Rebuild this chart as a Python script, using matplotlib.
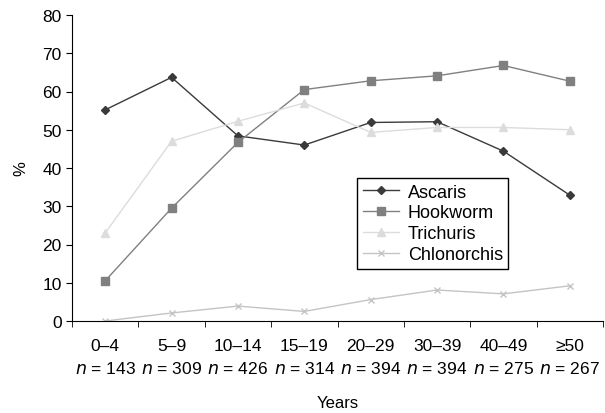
import matplotlib.pyplot as plt
from matplotlib.ticker import MultipleLocator, FixedLocator

plt.rcParams['font.family'] = ['Liberation Sans', 'DejaVu Sans']

age_groups = ['0–4', '5–9', '10–14', '15–19', '20–29', '30–39', '40–49', '≥50']
n_counts = [143, 309, 426, 314, 394, 394, 275, 267]

ascaris = [55.2, 63.7, 48.4, 46.0, 51.9, 52.1, 44.4, 32.9]
hookworm = [10.5, 29.5, 46.7, 60.5, 62.8, 64.1, 66.8, 62.7]
trichuris = [23.0, 47.0, 52.2, 57.0, 49.3, 50.6, 50.6, 50.0]
chlonorchis = [0.0, 2.1, 3.9, 2.5, 5.6, 8.1, 7.1, 9.2]

fig = plt.figure(figsize=(6.05, 4.14), dpi=100)
ax = fig.add_axes([72/605, 1 - 322/414, (603 - 72)/605, (322 - 16)/414])

x = list(range(len(age_groups)))
ax.plot(x, ascaris, color='#3a3a3a', marker='D', markersize=4, lw=1, label='Ascaris')
ax.plot(x, hookworm, color='#808080', marker='s', markersize=5.5, lw=1, label='Hookworm')
ax.plot(x, trichuris, color='#dcdcdc', marker='^', markersize=6, lw=1, label='Trichuris')
ax.plot(x, chlonorchis, color='#c4c4c4', marker='x', markersize=5, lw=1, mew=1, label='Chlonorchis')

ax.set_xlim(-0.5, len(age_groups) - 0.5)
ax.set_ylim(0, 80)
ax.yaxis.set_major_locator(MultipleLocator(10))

labels = [a + '\n' + '$n$ = ' + str(n) for a, n in zip(age_groups, n_counts)]
ax.set_xticks(x)
ax.set_xticklabels(labels, linespacing=1.6)
ax.xaxis.set_minor_locator(FixedLocator([i - 0.5 for i in range(len(age_groups) + 1)]))
ax.tick_params(axis='x', which='major', length=0, pad=12, labelsize=12.5)
ax.tick_params(axis='x', which='minor', length=4, direction='out')
ax.tick_params(axis='y', length=4, direction='out', labelsize=12.5)

for s in ['top', 'right']:
    ax.spines[s].set_visible(False)

ax.set_ylabel('%', fontsize=12, labelpad=10)
ax.set_xlabel('Years', fontsize=12, labelpad=13)

leg = ax.legend(loc='upper left', bbox_to_anchor=(0.537, 0.467), fontsize=13,
                frameon=True, fancybox=False, framealpha=1, edgecolor='black',
                borderpad=0.3, labelspacing=0.22, handlelength=2.0, handletextpad=0.5,
                borderaxespad=0)
leg.get_frame().set_linewidth(1.0)

fig.savefig('out.png', dpi=100)
